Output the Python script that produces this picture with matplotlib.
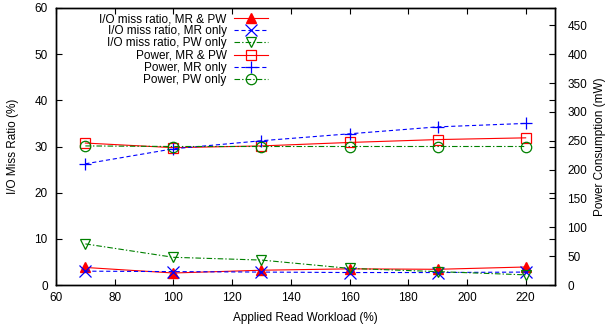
import matplotlib
matplotlib.use("Agg")
import matplotlib.pyplot as plt

plt.rcParams['font.family'] = ['Liberation Sans', 'DejaVu Sans']
plt.rcParams['lines.scale_dashes'] = False

workload = [70, 100, 130, 160, 190, 220]
miss_mr_pw = [3.8, 2.6, 3.2, 3.5, 3.4, 3.9]
miss_mr = [3.0, 2.9, 2.8, 2.7, 2.7, 2.8]
miss_pw = [8.9, 6.0, 5.4, 3.6, 2.9, 2.2]
power_mr_pw = [246, 238, 241, 247, 252, 255]
power_mr = [210, 236, 250, 262, 274, 280]
power_pw = [241, 240, 240, 240, 240, 240]

xticks = [60, 80, 100, 120, 140, 160, 180, 200, 220]
yticks_left = [0, 10, 20, 30, 40, 50, 60]
yticks_right = [0, 50, 100, 150, 200, 250, 300, 350, 400, 450]

RED = '#ff0000'
BLUE = '#0000ff'
GREEN = '#008000'

fig = plt.figure(figsize=(6.08, 3.29), dpi=100)
ax = fig.add_axes([56/608, 44/329, (555-56)/608, (285-8)/329])
ax2 = ax.twinx()

lw = 0.8
l1, = ax.plot(workload, miss_mr_pw, color=RED, lw=lw, ls='-', marker='^', ms=7, mfc=RED, mec=RED,
              label='I/O miss ratio, MR & PW')
l2, = ax.plot(workload, miss_mr, color=BLUE, lw=lw, dashes=(3, 2), marker='x', ms=8, mew=0.9,
              label='I/O miss ratio, MR only')
l3, = ax.plot(workload, miss_pw, color=GREEN, lw=lw, dashes=(4, 1.5, 1, 1.5), marker='v', ms=7.5,
              mfc='none', mec=GREEN, mew=0.9, label='I/O miss ratio, PW only')
l4, = ax2.plot(workload, power_mr_pw, color=RED, lw=lw, ls='-', marker='s', ms=7.5, mfc='none',
               mec=RED, mew=0.9, label='Power, MR & PW')
l5, = ax2.plot(workload, power_mr, color=BLUE, lw=lw, dashes=(3, 2), marker='+', ms=9, mew=0.9,
               label='Power, MR only')
l6, = ax2.plot(workload, power_pw, color=GREEN, lw=lw, dashes=(4, 1.5, 1, 1.5), marker='o', ms=7.5,
               mfc='none', mec=GREEN, mew=0.9, label='Power, PW only')

ax.set_xlim(60, 230)
ax.set_ylim(0, 60)
ax2.set_ylim(0, 480)
ax.set_xticks(xticks)
ax.set_yticks(yticks_left)
ax2.set_yticks(yticks_right)

fs = 8.5
ax.tick_params(axis='both', direction='in', length=4, width=0.8, labelsize=fs, colors='black',
               top=True, right=True)
ax.tick_params(axis='x', pad=5)
ax.tick_params(axis='y', pad=6)
ax2.tick_params(axis='y', direction='in', length=4, width=0.8, labelsize=fs, right=True, left=False,
                pad=9)
for a in (ax, ax2):
    for s in a.spines.values():
        s.set_linewidth(1.0)

ax.set_xlabel('Applied Read Workload (%)', fontsize=fs, labelpad=6)
ax.set_ylabel('I/O Miss Ratio (%)', fontsize=fs, labelpad=11)
ax2.set_ylabel('Power Consumption (mW)', fontsize=fs, labelpad=5)

handles = [l1, l2, l3, l4, l5, l6]
leg = ax2.legend(handles=handles, loc='upper right', bbox_to_anchor=(268/608, 1 - 13/329),
                 bbox_transform=fig.transFigure, frameon=False, markerfirst=False, fontsize=fs,
                 handlelength=2.9, handletextpad=0.6, labelspacing=0.02, borderpad=0, borderaxespad=0)
for col in leg._legend_handle_box.get_children():
    col.align = 'right'

fig.savefig('out.png', dpi=100)
